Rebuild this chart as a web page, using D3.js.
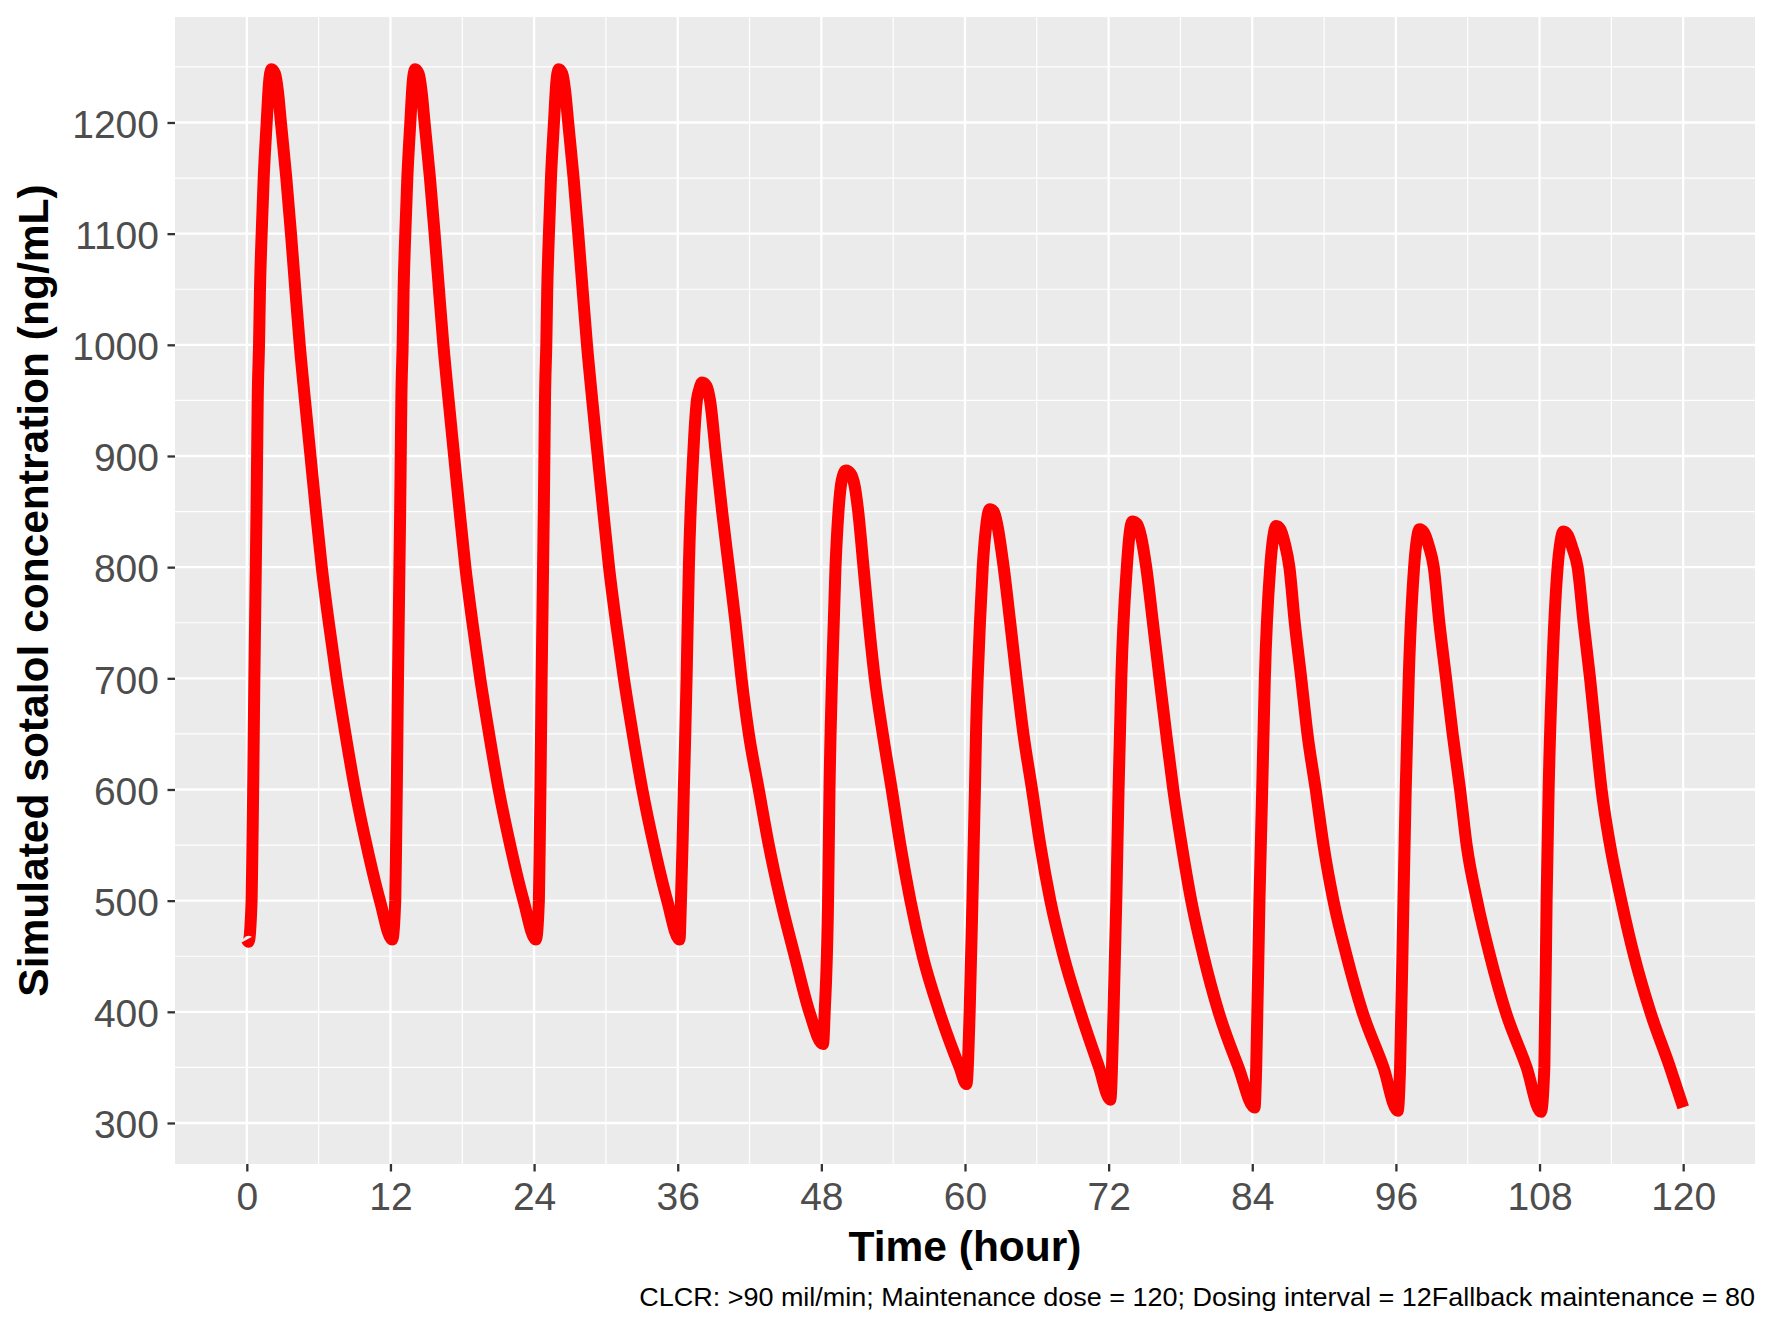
<!DOCTYPE html>
<html><head><meta charset="utf-8">
<script src="https://cdn.jsdelivr.net/npm/d3@7"></script>
<style>body{margin:0;background:#fff}svg{display:block}</style>
</head><body>
<svg id="chart" width="1772" height="1329"></svg>
<script>
// ---- data (time in hours, concentration in ng/mL) ----
const interval1 = [[0,465],[0.15,463],[0.4,500],[0.47,550],[0.53,600],[0.58,650],[0.63,700],[0.69,750],[0.75,800],[0.81,850],[0.86,900],[0.91,950],[1.02,1000],[1.1,1050],[1.24,1100],[1.41,1150],[1.66,1200],[1.85,1235],[2.05,1248],[2.35,1244],[2.6,1228],[2.85,1200],[3.3,1150],[3.69,1100],[4.05,1050],[4.42,1000],[4.86,950],[5.32,900],[5.78,850],[6.26,800],[6.85,750],[7.5,700],[8.24,650],[9.04,600],[10.0,550],[11.12,500],[12.15,465]];
const interval2 = [[12.4,500],[12.47,550],[12.53,600],[12.58,650],[12.63,700],[12.69,750],[12.75,800],[12.81,850],[12.86,900],[12.91,950],[13.02,1000],[13.1,1050],[13.24,1100],[13.41,1150],[13.66,1200],[13.85,1235],[14.05,1248],[14.35,1244],[14.6,1228],[14.85,1200],[15.3,1150],[15.69,1100],[16.05,1050],[16.42,1000],[16.86,950],[17.32,900],[17.78,850],[18.26,800],[18.85,750],[19.5,700],[20.24,650],[21.04,600],[22.0,550],[23.12,500],[24.15,465]];
const interval3 = [[24.4,500],[24.47,550],[24.53,600],[24.58,650],[24.63,700],[24.69,750],[24.75,800],[24.81,850],[24.86,900],[24.91,950],[25.02,1000],[25.1,1050],[25.24,1100],[25.41,1150],[25.66,1200],[25.85,1235],[26.05,1248],[26.35,1244],[26.6,1228],[26.85,1200],[27.3,1150],[27.69,1100],[28.05,1050],[28.42,1000],[28.86,950],[29.32,900],[29.78,850],[30.26,800],[30.85,750],[31.5,700],[32.24,650],[33.04,600],[34.0,550],[35.12,500],[36.15,465]];
const interval4 = [[36.27,500],[36.4,550],[36.51,600],[36.63,650],[36.74,700],[36.93,800],[37.29,900],[37.6,950],[37.8,960],[38.04,966],[38.4,963],[38.7,950],[39.2,900],[39.71,850],[40.27,800],[40.83,750],[41.33,700],[41.94,650],[42.77,600],[43.61,550],[44.61,500],[45.78,450],[47.0,400],[48.14,371]];
const interval5 = [[48.28,400],[48.56,500],[48.68,600],[48.89,700],[49.18,800],[49.43,850],[49.7,878],[50.05,887],[50.45,884],[50.8,872],[51.08,850],[51.52,800],[51.96,750],[52.46,700],[53.13,650],[53.88,600],[54.6,550],[55.44,500],[56.47,450],[57.86,400],[59.55,350],[60.12,335]];
const interval6 = [[60.39,400],[60.62,500],[60.83,600],[60.92,650],[61.06,700],[61.25,750],[61.48,800],[61.78,838],[62.05,852],[62.4,850],[62.7,838],[63.23,800],[63.78,750],[64.31,700],[64.88,650],[65.6,600],[66.29,550],[67.13,500],[68.24,450],[69.63,400],[71.2,350],[72.14,321]];
const interval7 = [[72.41,400],[72.64,500],[72.83,600],[73.06,700],[73.52,800],[73.75,830],[73.98,841],[74.35,839],[74.7,828],[75.14,800],[75.7,750],[76.25,700],[76.81,650],[77.4,600],[78.1,550],[78.9,500],[79.93,450],[81.18,400],[82.85,350],[84.19,314]];
const interval8 = [[84.33,350],[84.6,500],[84.83,600],[85.05,700],[85.5,800],[85.75,827],[86.0,837],[86.35,834],[86.7,822],[87.1,800],[87.55,750],[88.09,700],[88.61,650],[89.3,600],[89.95,550],[90.78,500],[91.89,450],[93.2,400],[94.96,350],[96.15,311]];
const interval9 = [[96.35,350],[96.63,500],[96.82,600],[97.07,700],[97.52,800],[97.75,825],[97.96,834],[98.35,831],[98.75,819],[99.16,800],[99.63,750],[100.19,700],[100.74,650],[101.36,600],[101.91,550],[102.78,500],[103.87,450],[105.17,400],[106.92,350],[108.12,310]];
const interval10 = [[108.4,350],[108.59,500],[108.76,600],[109.04,700],[109.51,800],[109.75,823],[109.99,832],[110.35,829],[110.75,817],[111.18,800],[111.68,750],[112.22,700],[112.69,650],[113.18,600],[113.89,550],[114.83,500],[115.91,450],[117.25,400],[118.9,350],[120,314]];

const xTickValues = [0,12,24,36,48,60,72,84,96,108,120];
const xMinorValues = [6,18,30,42,54,66,78,90,102,114];
const yTickValues = [300,400,500,600,700,800,900,1000,1100,1200];
const yMinorValues = [350,450,550,650,750,850,950,1050,1150,1250];
const xTitle = "Time (hour)";
const yTitle = "Simulated sotalol concentration (ng/mL)";
const captionText = "CLCR: >90 mil/min; Maintenance dose = 120; Dosing interval = 12Fallback maintenance = 80";

// ---- layout ----
const panel = {left:175, right:1755, top:17, bottom:1164};
const FONT = "'Liberation Sans', Arial, Helvetica, sans-serif";

const series = [].concat(interval1, interval2, interval3, interval4, interval5,
                         interval6, interval7, interval8, interval9, interval10);

const xe = d3.extent(series, d => d[0]);
const ye = d3.extent(series, d => d[1]);
const xp = (xe[1]-xe[0])*0.05, yp = (ye[1]-ye[0])*0.05;
const x = d3.scaleLinear().domain([xe[0]-xp, xe[1]+xp]).range([panel.left, panel.right]);
const y = d3.scaleLinear().domain([ye[0]-yp, ye[1]+yp]).range([panel.bottom, panel.top]);

const svg = d3.select("#chart");
svg.append("rect").attr("width",1772).attr("height",1329).attr("fill","#fff");

svg.append("rect")
  .attr("x", panel.left).attr("y", panel.top)
  .attr("width", panel.right-panel.left).attr("height", panel.bottom-panel.top)
  .attr("fill", "#EBEBEB");

const grid = svg.append("g");
grid.selectAll(".xmin").data(xMinorValues).join("line")
  .attr("x1", d=>x(d)).attr("x2", d=>x(d)).attr("y1", panel.top).attr("y2", panel.bottom)
  .attr("stroke","#fff").attr("stroke-width",1.2);
grid.selectAll(".ymin").data(yMinorValues).join("line")
  .attr("y1", d=>y(d)).attr("y2", d=>y(d)).attr("x1", panel.left).attr("x2", panel.right)
  .attr("stroke","#fff").attr("stroke-width",1.2);
grid.selectAll(".xmaj").data(xTickValues).join("line")
  .attr("x1", d=>x(d)).attr("x2", d=>x(d)).attr("y1", panel.top).attr("y2", panel.bottom)
  .attr("stroke","#fff").attr("stroke-width",2.3);
grid.selectAll(".ymaj").data(yTickValues).join("line")
  .attr("y1", d=>y(d)).attr("y2", d=>y(d)).attr("x1", panel.left).attr("x2", panel.right)
  .attr("stroke","#fff").attr("stroke-width",2.3);

const line = d3.line().x(d=>x(d[0])).y(d=>y(d[1])).curve(d3.curveMonotoneX);
svg.append("path").datum(series)
  .attr("d", line)
  .attr("fill","none").attr("stroke","#FF0000")
  .attr("stroke-width",12).attr("stroke-linejoin","round").attr("stroke-linecap","butt");

// axes
const xAxis = svg.append("g").attr("transform", `translate(0,${panel.bottom})`)
  .call(d3.axisBottom(x).tickValues(xTickValues).tickSize(7.5).tickPadding(11.3).tickFormat(d3.format("d")));
const yAxis = svg.append("g").attr("transform", `translate(${panel.left},0)`)
  .call(d3.axisLeft(y).tickValues(yTickValues).tickSize(7.5).tickPadding(8.5).tickFormat(d3.format("d")));
[xAxis, yAxis].forEach(g => {
  g.select(".domain").remove();
  g.selectAll(".tick line").attr("stroke","#333333").attr("stroke-width",2.3);
  g.selectAll(".tick text").attr("fill","#4D4D4D").style("font-family",FONT).style("font-size","39px");
});
yAxis.selectAll(".tick text").attr("dy","0.38em");

svg.append("text").text(xTitle)
  .attr("x", (panel.left+panel.right)/2).attr("y", 1261)
  .attr("text-anchor","middle").style("font-family",FONT).style("font-weight","bold")
  .style("font-size","42.5px").attr("fill","#000");

svg.append("text").text(yTitle)
  .attr("transform", `translate(48,${(panel.top+panel.bottom)/2}) rotate(-90)`)
  .attr("text-anchor","middle").style("font-family",FONT).style("font-weight","bold")
  .style("font-size","42.5px").attr("fill","#000");

svg.append("text").text(captionText)
  .attr("transform", `translate(${panel.right},1306) scale(1.08,1)`)
  .attr("text-anchor","end").style("font-family",FONT)
  .style("font-size","25px").attr("fill","#000");
</script>
</body></html>
